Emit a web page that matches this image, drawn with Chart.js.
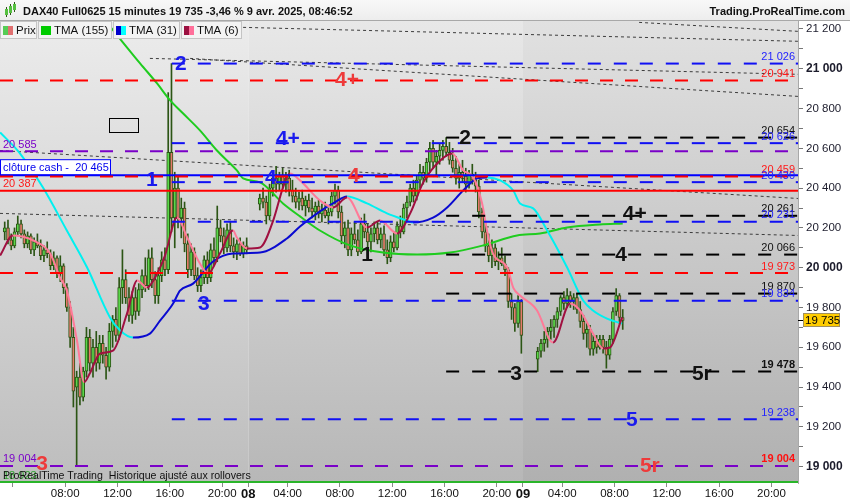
<!DOCTYPE html>
<html>
<head>
<meta charset="utf-8">
<script src="https://cdn.jsdelivr.net/npm/chart.js@4.4.1/dist/chart.umd.min.js"></script>
<style>
  html, body { margin: 0; padding: 0; background: #fff; }
  #c { display: block; }
</style>
</head>
<body>
<canvas id="c" width="850" height="500"></canvas>
<script>
// 15 min bars, x = slot index (day 7 01:00 = 0, 84 slots a day)
const sessionStart = [9, 87, 172];
const sessionBars  = [75, 81, 27];

const opens = [
  // 7 avr
  20180,20200,20140,20110,20180,20220,20170,20120,20160,20090,
  20130,20110,20060,20090,20070,20010,20050,19970,20010,19900,
  19800,19650,19400,19450,19350,19480,19650,19520,19600,19520,
  19620,19560,19500,19680,19740,19660,19900,19940,19850,19760,
  19850,19780,19890,19960,19910,20050,19940,19860,19960,20040,
  19990,20580,20250,20400,20250,20300,20120,19990,20080,19960,
  19910,19950,20040,19950,20090,20050,20200,20160,20100,20190,
  20110,20080,20120,20070,20110,
  // 8 avr
  20320,20350,20330,20260,20400,20450,20420,20460,20420,20450,
  20390,20360,20330,20350,20310,20340,20300,20280,20310,20270,
  20290,20260,20280,20360,20390,20280,20160,20200,20090,20170,
  20140,20080,20220,20180,20130,20170,20200,20140,20170,20090,
  20050,20130,20100,20210,20180,20300,20330,20400,20360,20440,
  20480,20450,20530,20600,20530,20560,20590,20610,20580,20540,
  20500,20450,20480,20460,20420,20470,20440,20410,20280,20180,
  20110,20060,20100,20030,20050,20020,19990,19830,19800,19720,
  19830,
  // 9 avr
  19540,19580,19620,19640,19680,19700,19740,19780,19850,19820,
  19860,19830,19850,19790,19730,19670,19690,19590,19630,19600,
  19640,19600,19560,19640,19780,19860,19750
];
const highs = [
  20230,20240,20170,20200,20260,20240,20190,20180,20170,20150,
  20170,20140,20110,20130,20090,20080,20060,20060,20020,19920,
  19830,19700,19480,19520,19500,19700,19690,19640,19680,19660,
  19660,19600,19720,19760,19800,19950,20090,19990,19900,19880,
  19900,19920,19990,20050,20090,20100,19980,20000,20080,20100,
  20880,21026,20480,20460,20350,20330,20170,20120,20100,20000,
  19990,20060,20080,20120,20150,20310,20240,20200,20220,20230,
  20150,20140,20150,20130,20150,
  20370,20400,20360,20420,20480,20510,20480,20500,20480,20490,
  20440,20400,20380,20390,20360,20370,20350,20330,20340,20320,
  20330,20300,20380,20420,20410,20310,20230,20240,20200,20230,
  20190,20250,20270,20220,20200,20230,20230,20200,20210,20140,
  20160,20180,20230,20260,20320,20360,20420,20440,20460,20520,
  20510,20550,20630,20640,20590,20620,20640,20654,20630,20600,
  20560,20520,20540,20500,20490,20520,20480,20440,20300,20230,
  20170,20140,20120,20080,20100,20060,20000,19870,19820,19860,
  19840,
  19600,19640,19680,19700,19740,19760,19800,19860,19880,19895,
  19880,19870,19870,19830,19760,19720,19710,19660,19660,19660,
  19660,19630,19660,19800,19895,19870,19790
];
const lows = [
  20140,20120,20090,20100,20160,20150,20100,20100,20070,20060,
  20100,20040,20030,20050,19990,19990,19950,19930,19870,19780,
  19600,19300,19004,19310,19330,19450,19480,19450,19480,19490,
  19520,19440,19480,19600,19630,19640,19820,19820,19730,19720,
  19740,19760,19850,19880,19890,19900,19820,19820,19930,19960,
  19970,20180,20100,20200,20150,20080,19950,19960,19940,19880,
  19880,19920,19920,19930,20010,20030,20130,20070,20080,20080,
  20050,20040,20060,20050,20070,
  20290,20300,20220,20240,20360,20380,20390,20400,20380,20360,
  20330,20300,20290,20290,20260,20280,20250,20240,20250,20230,
  20250,20220,20260,20320,20250,20120,20100,20060,20060,20120,
  20060,20070,20150,20100,20080,20130,20120,20100,20060,20020,
  20030,20080,20090,20150,20170,20250,20310,20330,20340,20400,
  20420,20430,20480,20500,20460,20520,20540,20560,20520,20480,
  20420,20400,20430,20380,20400,20420,20380,20250,20150,20080,
  20030,20000,20010,19990,20010,19960,19800,19740,19680,19700,
  19570,
  19478,19550,19580,19600,19640,19650,19700,19760,19790,19800,
  19800,19790,19770,19700,19640,19600,19560,19560,19570,19590,
  19570,19495,19540,19620,19760,19720,19690
];
const closes = [
  20200,20140,20110,20180,20220,20170,20120,20160,20090,20130,
  20110,20060,20090,20070,20010,20050,19970,20010,19900,19800,
  19650,19380,19450,19350,19480,19650,19520,19600,19520,19620,
  19560,19500,19680,19740,19660,19900,19940,19850,19760,19850,
  19780,19890,19960,19910,20050,19940,19860,19960,20040,19990,
  20580,20250,20400,20250,20300,20120,19990,20080,19960,19910,
  19950,20040,19950,20090,20050,20200,20160,20100,20190,20110,
  20080,20120,20070,20110,20090,
  20350,20330,20260,20400,20450,20420,20460,20420,20450,20390,
  20360,20330,20350,20310,20340,20300,20280,20310,20270,20290,
  20260,20280,20360,20390,20280,20160,20200,20090,20170,20140,
  20080,20220,20180,20130,20170,20200,20140,20170,20090,20050,
  20130,20100,20210,20180,20300,20330,20400,20360,20440,20480,
  20450,20530,20600,20530,20560,20590,20610,20580,20540,20500,
  20450,20480,20460,20420,20470,20440,20410,20280,20180,20110,
  20060,20100,20030,20050,20020,19990,19830,19800,19720,19830,
  19660,
  19580,19620,19640,19680,19700,19740,19780,19850,19820,19860,
  19830,19850,19790,19730,19670,19690,19590,19630,19600,19640,
  19600,19560,19640,19780,19860,19750,19735
];

// moving averages: [slot, price]
const tma155 = [[39.7,21243],[50.4,21027],[55.6,20926],[59.6,20841],[63.5,20776],[68.7,20690],
  [73.9,20589],[80,20489],[81.9,20449],[87.1,20429],[94.1,20323],[99.3,20258],[105.4,20187],
  [114.6,20112],[124.7,20076],[135.1,20066],[145.2,20076],[155.3,20112],[165.7,20162],
  [172.7,20172],[181,20202],[191,20217],[198,20222]];
const tma31 = [[7.6,20680],[13.7,20574],[20.7,20403],[28,20187],[34.2,20001],[41.2,19750],
  [44.3,19684],[48.2,19649],[53.4,19669],[56.5,19734],[60.5,19820],[62.6,19885],[66.6,19920],
  [72.7,20031],[78.8,20071],[87.1,20076],[95.3,20147],[99.3,20207],[105.4,20283],[109.4,20323],
  [113.7,20358],[119.8,20323],[125.9,20273],[132,20237],[133.9,20227],[140,20252],[144.3,20303],
  [149.2,20388],[153.5,20449],[156.5,20454],[160.5,20439],[164.5,20388],[166.6,20323],
  [170.6,20298],[174.9,20187],[181,20001],[185.9,19835],[188.9,19785],[193.2,19744],[197.8,19719]];
const tma6 = [[7.6,20061],[11.5,20162],[17.7,20137],[22.9,20071],[25.9,19951],[28,19885],
  [31.1,19634],[33.3,19425],[35,19468],[38.1,19568],[42.1,19583],[46.4,19770],[49.5,19936],
  [52.5,19900],[55.6,19970],[58,20061],[61.7,20252],[64.8,20152],[68.7,20021],[71.2,19971],
  [74.8,20071],[78.8,20187],[80,20152],[83.1,20097],[87.1,20102],[91.1,20237],[94.1,20403],
  [96.2,20474],[99.3,20439],[105.4,20338],[109.4,20303],[113.7,20353],[119.8,20202],
  [123.8,20237],[129,20172],[133,20273],[137,20429],[142.2,20539],[145.9,20574],[149.2,20489],
  [152.3,20454],[155,20323],[156.5,20187],[158.3,20071],[162.7,20001],[164.5,19900],
  [166.6,19860],[171.8,19785],[175.8,19634],[176.7,19624],[181.9,19820],[184.9,19785],
  [188.9,19669],[192,19594],[194.1,19599],[197.8,19750]];

// horizontal levels
const levelPrice = [21026, 20941, 20654, 20626, 20585, 20459, 20465, 20430, 20387, 20261,
                    20231, 20066, 19973, 19870, 19834, 19478, 19238, 19004, 18923];
const levelFrom  = [60.1, 7.56, 144, 60.1, 7.56, 7.56, 7.56, 60.1, 7.56, 144,
                    60.1, 144, 7.56, 144, 60.1, 144, 60.1, 7.56, 7.56];
const levelKind  = ['blue','red','black','blue','purple','red','blueSolid','blue','redSolid','black',
                    'blue','black','red','black','blue','black','blue','purple','greenSolid'];
const rightLabel = ['blue','red','black','blue',null,'red',null,'blue',null,'black',
                    'blue','black','red','black','blue','blackBold',  'blue','redBold',null];
const leftLabel  = [null,null,null,null,'purple',null,null,null,'red',null,
                    null,null,null,null,null,null,null,'purple','green'];

// wave labels
const markText  = ['2','4+','4+','2','1','4','4','4+','1','4','3','3','5r','5','3','5r'];
const markSlot  = [62.9,113.7,95.6,149.8,54.0,90.4,115.8,201.7,119.8,197.5,69.9,165.4,222.2,200.8,20.4,206.3];
const markPrice = [21030,20948,20652,20657,20443,20453,20463,20272,20066,20066,19824,19472,19472,19241,19020,19005];
const markKind  = ['blue','red','blue','black','blue','blue','red','black','black','black','blue','black','black','blue','red','red'];

// thin dotted trend lines [slot0, price0, slot1, price1]
const trendLines = [[7.56,20589,251.6,20348],[7.56,20273,251.6,20162],[81.9,21208,251.6,21138],
                    [203,21233,251.6,21188],[53.4,21052,251.6,20972],[65.7,21052,251.6,20861]];

const priceTicks = [19000,19100,19200,19300,19400,19500,19600,19700,19800,19900,20000,20100,
                    20200,20300,20400,20500,20600,20700,20800,20900,21000,21100,21200];
const timeTicks = [12,28,44,60,76,84,96,112,128,144,160,168,180,196,212,228,244];
const timeText  = ['','08:00','12:00','16:00','20:00','08','04:00','08:00','12:00','16:00','20:00',
                   '09','04:00','08:00','12:00','16:00','20:00'];
const dayEdge = [84, 168];
const lastPrice = 19735;
const cashClose = 20465;

const FONT = '"Liberation Sans", Arial, sans-serif';
const C = {
  blue: '#1010f4', red: '#ff0000', black: '#000', purple: '#7a00c8',
  up: '#5ad84a', down: '#e57a6c', wick: '#2c5515'
};
const LEVEL = {
  blue:   {color: C.blue, dash: [13,13], width: 2},
  red:    {color: C.red, dash: [13,12], width: 2},
  black:  {color: C.black, dash: [13,13], width: 2},
  purple: {color: C.purple, dash: [13,12], width: 2},
  blueSolid:  {color: '#0000ff', dash: [], width: 2},
  redSolid:   {color: '#ff0000', dash: [], width: 2},
  greenSolid: {color: '#2ab52a', dash: [], width: 2}
};
const TEXTC = {blue: '#2323ff', red: '#ff1a1a', black: '#111', blackBold: '#111', redBold: '#ff1010',
               purple: '#7a00c8', green: '#2ca02c'};
const MARKC = {blue: '#1a1aee', red: '#ee3a3a', black: '#111'};

const fmt = v => String(v).replace(/\B(?=(\d{3})+(?!\d))/g, ' ');

const slots = [];
sessionStart.forEach((s, k) => { for (let j = 0; j < sessionBars[k]; j++) slots.push(s + j); });
const xMax = 251.6;

const datasets = [];
trendLines.forEach(t => datasets.push({
  type: 'line', data: [{x: t[0], y: t[1]}, {x: t[2], y: t[3]}],
  borderColor: '#3c3c3c', borderWidth: 1, borderDash: [3, 3], pointRadius: 0, order: 20
}));
datasets.push({
  type: 'bar', data: slots.map((x, k) => ({x, y: [lows[k], highs[k]]})),
  backgroundColor: C.wick, barThickness: 1, grouped: false, order: 15
});
datasets.push({
  type: 'bar', data: slots.map((x, k) => ({x, y: [opens[k], closes[k]]})),
  backgroundColor: ctx => closes[ctx.dataIndex] >= opens[ctx.dataIndex] ? C.up : C.down,
  borderColor: C.wick, borderWidth: 1, borderSkipped: false, barThickness: 3,
  minBarLength: 2, grouped: false, order: 14
});
function maLine(pts, rise, fall, order) {
  return {
    type: 'line', data: pts.map(p => ({x: p[0], y: p[1]})), borderWidth: 2, pointRadius: 0,
    cubicInterpolationMode: 'monotone', borderColor: rise, order,
    segment: { borderColor: ctx => ctx.p1.parsed.y >= ctx.p0.parsed.y ? rise : fall }
  };
}
datasets.push(maLine(tma155, '#1fcc1f', '#1fcc1f', 12));
datasets.push(maLine(tma31, '#0a0ad0', '#00f0f0', 11));
datasets.push(maLine(tma6, '#a01040', '#ff7a98', 10));
levelPrice.forEach((p, k) => {
  const s = LEVEL[levelKind[k]];
  datasets.push({
    type: 'line', data: [{x: levelFrom[k], y: p}, {x: xMax, y: p}],
    borderColor: s.color, borderWidth: s.width, borderDash: s.dash, pointRadius: 0, order: 2
  });
});

const background = {
  id: 'background',
  beforeDraw(chart) {
    const {ctx, chartArea: a} = chart;
    const x = chart.scales.x;
    ctx.save();
    ctx.fillStyle = '#fff';
    ctx.fillRect(0, 0, chart.width, chart.height);
    const edges = [a.left, x.getPixelForValue(dayEdge[0] - 0.5), x.getPixelForValue(dayEdge[1] - 0.5), a.right];
    const shades = [['#ececec', '#bdbdbd'], ['#e8e8e8', '#b7b7b7'], ['#e1e1e1', '#b0b0b0']];
    shades.forEach((c, k) => {
      const g = ctx.createLinearGradient(0, a.top, 0, a.bottom);
      g.addColorStop(0, c[0]); g.addColorStop(1, c[1]);
      ctx.fillStyle = g;
      ctx.fillRect(edges[k], a.top, edges[k + 1] - edges[k], a.bottom - a.top);
    });
    ctx.restore();
  }
};

const labels = {
  id: 'labels',
  afterDatasetsDraw(chart) {
    const {ctx, chartArea: a} = chart;
    const xs = chart.scales.x, ys = chart.scales.y;
    ctx.save();
    ctx.textBaseline = 'bottom';
    levelPrice.forEach((p, k) => {
      const y = ys.getPixelForValue(p);
      const r = rightLabel[k];
      if (r) {
        ctx.font = (r.endsWith('Bold') ? 'bold ' : '') + '11px ' + FONT;
        ctx.fillStyle = TEXTC[r];
        ctx.textAlign = 'right';
        ctx.fillText(fmt(p), a.right - 3, y - 1);
      }
      const l = leftLabel[k];
      if (l) {
        ctx.font = '11px ' + FONT;
        ctx.fillStyle = TEXTC[l];
        ctx.textAlign = 'left';
        ctx.fillText(fmt(p), 3, y - 1);
      }
    });
    // cash close box
    const yc = ys.getPixelForValue(cashClose);
    ctx.fillStyle = '#fff';
    ctx.fillRect(0.5, yc - 15.5, 110, 15);
    ctx.strokeStyle = '#0000ff'; ctx.lineWidth = 1;
    ctx.strokeRect(0.5, yc - 15.5, 110, 15);
    ctx.font = '11px ' + FONT; ctx.fillStyle = '#0000ee';
    ctx.textAlign = 'left'; ctx.textBaseline = 'middle';
    ctx.fillText('clôture cash -  ' + fmt(cashClose), 3, yc - 7.5);
    // wave marks
    ctx.font = 'bold 21px ' + FONT; ctx.textAlign = 'center';
    markText.forEach((t, k) => {
      ctx.fillStyle = MARKC[markKind[k]];
      ctx.fillText(t, xs.getPixelForValue(markSlot[k]), ys.getPixelForValue(markPrice[k]) + 1);
    });
    // small box
    const bx0 = xs.getPixelForValue(40.9), bx1 = xs.getPixelForValue(49.8);
    const by0 = ys.getPixelForValue(20754), by1 = ys.getPixelForValue(20684);
    ctx.strokeStyle = '#000';
    ctx.strokeRect(Math.round(bx0) + 0.5, Math.round(by0) + 0.5, Math.round(bx1 - bx0), Math.round(by1 - by0));
    // footer
    ctx.font = '10.6px ' + FONT; ctx.fillStyle = '#111'; ctx.textAlign = 'left';
    ctx.fillText('ProRealTime Trading  Historique ajusté aux rollovers', 3, a.bottom - 7);
    ctx.restore();
  },
  afterDraw(chart) {
    const {ctx, chartArea: a} = chart;
    const ys = chart.scales.y;
    ctx.save();
    // last price box
    const yp = Math.round(ys.getPixelForValue(lastPrice));
    ctx.fillStyle = '#000'; ctx.fillRect(a.right, yp, 5, 1);
    ctx.fillStyle = '#ffcc00'; ctx.fillRect(803, yp - 7, 37, 14);
    ctx.strokeStyle = '#a09060'; ctx.strokeRect(803.5, yp - 6.5, 36, 13);
    ctx.fillStyle = '#000'; ctx.font = '11.5px ' + FONT;
    ctx.textBaseline = 'middle'; ctx.textAlign = 'left';
    ctx.fillText(fmt(lastPrice), 805, yp + 0.5);
    // title bar
    const g = ctx.createLinearGradient(0, 0, 0, 20);
    g.addColorStop(0, '#f8f8f8'); g.addColorStop(1, '#ededed');
    ctx.fillStyle = g; ctx.fillRect(0, 0, chart.width, 20);
    ctx.fillStyle = '#a8a8a8'; ctx.fillRect(0, 20, chart.width, 1);
    // icon
    [[6, 9, 6], [10, 6, 7], [14, 4, 6]].forEach(c => {
      ctx.fillStyle = C.wick; ctx.fillRect(c[0], c[1] - 2, 1, c[2] + 4);
      ctx.fillStyle = '#55c040'; ctx.fillRect(c[0] - 1, c[1], 3, c[2]);
    });
    ctx.font = 'bold 11px ' + FONT; ctx.fillStyle = '#111';
    ctx.fillText('DAX40 Full0625 15 minutes 19 735 -3,46 % 9 avr. 2025, 08:46:52', 23, 11.5);
    ctx.textAlign = 'right';
    ctx.fillText('Trading.ProRealTime.com', 845, 11.5);
    // legend boxes
    const boxes = [[0, 37, 'Prix', '#55cc55', '#e07070'], [38, 74, 'TMA (155)', '#00cc00', '#00cc00'],
                   [113, 67, 'TMA (31)', '#0000cc', '#00ffff'], [181, 61, 'TMA (6)', '#9b1040', '#ff6f9a']];
    ctx.textAlign = 'left'; ctx.font = '11.5px ' + FONT;
    boxes.forEach(b => {
      ctx.fillStyle = '#f3f3f3'; ctx.fillRect(b[0], 21, b[1], 18);
      ctx.strokeStyle = '#c4c4c4'; ctx.strokeRect(b[0] + 0.5, 21.5, b[1] - 1, 17);
      ctx.fillStyle = b[3]; ctx.fillRect(b[0] + 3, 26, 5, 9);
      ctx.fillStyle = b[4]; ctx.fillRect(b[0] + 8, 26, 5, 9);
      ctx.fillStyle = '#111'; ctx.fillText(b[2], b[0] + 16, 30.5);
    });
    ctx.restore();
  }
};

new Chart(document.getElementById('c'), {
  type: 'bar',
  data: { datasets },
  plugins: [background, labels],
  options: {
    responsive: false, animation: false, devicePixelRatio: 1, events: [],
    layout: { padding: { top: 20, left: 0, right: 0, bottom: 0 } },
    plugins: { legend: { display: false }, tooltip: { enabled: false } },
    scales: {
      x: {
        type: 'linear', min: 7.56, max: xMax, offset: false,
        grid: { offset: false, drawOnChartArea: false, drawTicks: true, tickLength: 4, color: '#8a8a8a' },
        border: { display: false },
        afterBuildTicks: s => { s.ticks = timeTicks.map(v => ({ value: v - 0.5 })); },
        afterFit: s => { s.height = 17; },
        ticks: {
          autoSkip: false, maxRotation: 0, padding: 0, color: '#111',
          font: ctx => (timeText[ctx.index] || '').length === 2 ? { family: FONT, size: 13, weight: 'bold' }
                                                                : { family: FONT, size: 11.5 },
          callback: (v, i) => timeText[i]
        }
      },
      y: {
        position: 'right', min: 18918, max: 21245,
        grid: { drawOnChartArea: false, drawTicks: true, tickLength: 5, color: '#777' },
        border: { display: true, color: '#a8a8a8', width: 1 },
        afterBuildTicks: s => { s.ticks = priceTicks.map(v => ({ value: v })); },
        afterFit: s => { s.width = 52; },
        ticks: {
          padding: 3, color: '#1c1c2c',
          font: ctx => ctx.tick && ctx.tick.value % 1000 === 0 ? { family: FONT, size: 12, weight: 'bold' }
                                                                : { family: FONT, size: 11.5 },
          callback: v => v % 200 === 0 ? fmt(v) : ''
        }
      }
    }
  }
});
</script>
</body>
</html>
